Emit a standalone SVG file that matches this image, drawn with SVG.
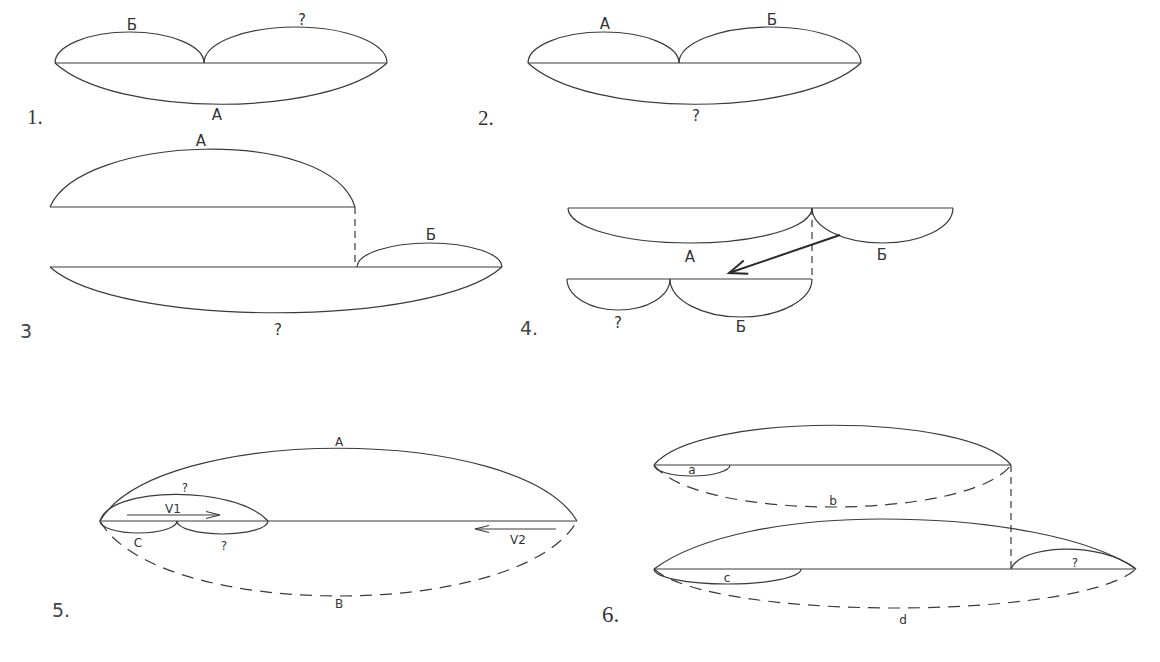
<svg xmlns="http://www.w3.org/2000/svg" width="1160" height="662" viewBox="0 0 1160 662">
<style>
.ln{fill:none;stroke:#3a3a3a;stroke-width:1.2}
.dsh{fill:none;stroke:#3a3a3a;stroke-width:1.2;stroke-dasharray:12 8}
.vd{fill:none;stroke:#3a3a3a;stroke-width:1.2;stroke-dasharray:7 5}
.arr{fill:none;stroke:#2a2a2a;stroke-width:2}
.arr2{fill:none;stroke:#3a3a3a;stroke-width:1.1}
.lb{font-family:"DejaVu Sans","Liberation Sans",sans-serif;font-size:15px;fill:#333;text-anchor:middle}
.ls{font-family:"DejaVu Sans","Liberation Sans",sans-serif;font-size:12px;fill:#333;text-anchor:middle}
.ns{font-family:"Liberation Serif","DejaVu Serif",serif;font-size:21px;fill:#333}
.nn{font-family:"DejaVu Sans","Liberation Sans",sans-serif;font-size:19px;fill:#444}
</style>
<defs>
<marker id="open" markerUnits="userSpaceOnUse" markerWidth="24" markerHeight="16" refX="20" refY="8" orient="auto">
<path d="M2,1 L20,8 L2,15" fill="none" stroke="#2a2a2a" stroke-width="2"/>
</marker>
<marker id="opens" markerUnits="userSpaceOnUse" markerWidth="18" markerHeight="10" refX="16" refY="5" orient="auto">
<path d="M2,1.5 L16,5 L2,8.5" fill="none" stroke="#3a3a3a" stroke-width="1.1"/>
</marker>
</defs>
<rect width="1160" height="662" fill="#ffffff"/>

<g id="d1">
<path class="ln" d="M55,63 H387"/>
<path class="ln" d="M55,63 A74.5,31 0 0 1 204,63"/>
<path class="ln" d="M204,63 A91.5,36 0 0 1 387,63"/>
<path class="ln" d="M55,63 C115,118 327,118 387,63"/>
<text class="lb" x="132" y="30">Б</text>
<text class="lb" x="302" y="25">?</text>
<text class="lb" x="217" y="120">А</text>
<text class="ns" x="27" y="124">1.</text>
</g>

<g id="d2">
<path class="ln" d="M528,63 H861"/>
<path class="ln" d="M528,63 A75.5,31 0 0 1 679,63"/>
<path class="ln" d="M679,63 A91,36 0 0 1 861,63"/>
<path class="ln" d="M528,63 C588,118 801,118 861,63"/>
<text class="lb" x="605" y="29">А</text>
<text class="lb" x="772" y="25">Б</text>
<text class="lb" x="696" y="121">?</text>
<text class="ns" x="478" y="125">2.</text>
</g>

<g id="d3">
<path class="ln" d="M50,207 H355"/>
<path class="ln" d="M50,207 C80,135 330,125 355,207"/>
<path class="ln" d="M50,267 H502"/>
<path class="ln" d="M357,267 A72.5,24 0 0 1 502,267"/>
<path class="ln" d="M50,267 C118,328 434,328 502,267"/>
<text class="lb" x="201" y="146">А</text>
<text class="lb" x="431" y="240">Б</text>
<text class="lb" x="278" y="335">?</text>
<text class="nn" x="20" y="338">3</text>
</g>

<g id="d4">
<path class="ln" d="M568,208 H953"/>
<path class="ln" d="M568,208 A122,35 0 0 0 812,208"/>
<path class="ln" d="M812,208 A70.5,35 0 0 0 953,208"/>
<path class="ln" d="M567,279 H812"/>
<path class="ln" d="M567,279 A51.5,31 0 0 0 670,279"/>
<path class="ln" d="M670,279 A71,38 0 0 0 812,279"/>
<text class="lb" x="690" y="262">А</text>
<text class="lb" x="882" y="260">Б</text>
<text class="lb" x="618" y="328">?</text>
<text class="lb" x="741" y="332">Б</text>
<text class="nn" x="520" y="335">4.</text>
</g>

<g id="d5">
<path class="ln" d="M100,521 H577"/>
<path class="ln" d="M100,521 C157,424 520,424 577,521"/>
<path class="ln" d="M100,521 C110,486 235,485 268,521"/>
<path class="ln" d="M100,521 A38.5,12 0 0 0 177,521"/>
<path class="ln" d="M177,521 A45.5,13 0 0 0 268,521"/>
<text class="ls" x="339" y="446">A</text>
<text class="ls" x="185" y="492">?</text>
<text class="ls" x="173" y="513">V1</text>
<text class="ls" x="138" y="547">C</text>
<text class="ls" x="224" y="550">?</text>
<text class="ls" x="518" y="544">V2</text>
<text class="ls" x="339" y="608">B</text>
<text class="nn" x="52" y="617">5.</text>
</g>

<g id="d6">
<path class="ln" d="M654,465 H1011"/>
<path class="ln" d="M654,465 C697,412 968,412 1011,465"/>
<path class="ln" d="M654,465 A38,11 0 0 0 730,465"/>
<path class="ln" d="M654,569 H1136"/>
<path class="ln" d="M654,569 C700,535 790,519 882,519 C990,519 1090,537 1136,569"/>
<path class="ln" d="M1011,569 C1020,545 1100,540 1136,569"/>
<path class="ln" d="M654,569 A73.5,15 0 0 0 801,569"/>
<text class="ls" x="692" y="474">a</text>
<text class="ls" x="833" y="505">b</text>
<text class="ls" x="1075" y="567">?</text>
<text class="ls" x="727" y="582">c</text>
<text class="ls" x="903" y="624">d</text>
<text class="ns" x="602" y="622" style="font-size:23px">6.</text>
</g>

<g id="connectors">
<path class="vd" d="M355,207 V267"/>
<path class="vd" d="M812,208 V279"/>
<path class="arr" d="M840,235 L729,273" marker-end="url(#open)"/>
<path class="arr2" d="M127,515 H220" marker-end="url(#opens)"/>
<path class="arr2" d="M556,529 H475" marker-end="url(#opens)"/>
<path class="dsh" d="M100,521 C157,621 520,621 577,521"/>
<path class="dsh" d="M654,465 C697,521 968,521 1011,465"/>
<path class="vd" d="M1011,465 V569"/>
<path class="dsh" d="M654,569 C712,621 1078,621 1136,569"/>
</g>
</svg>
